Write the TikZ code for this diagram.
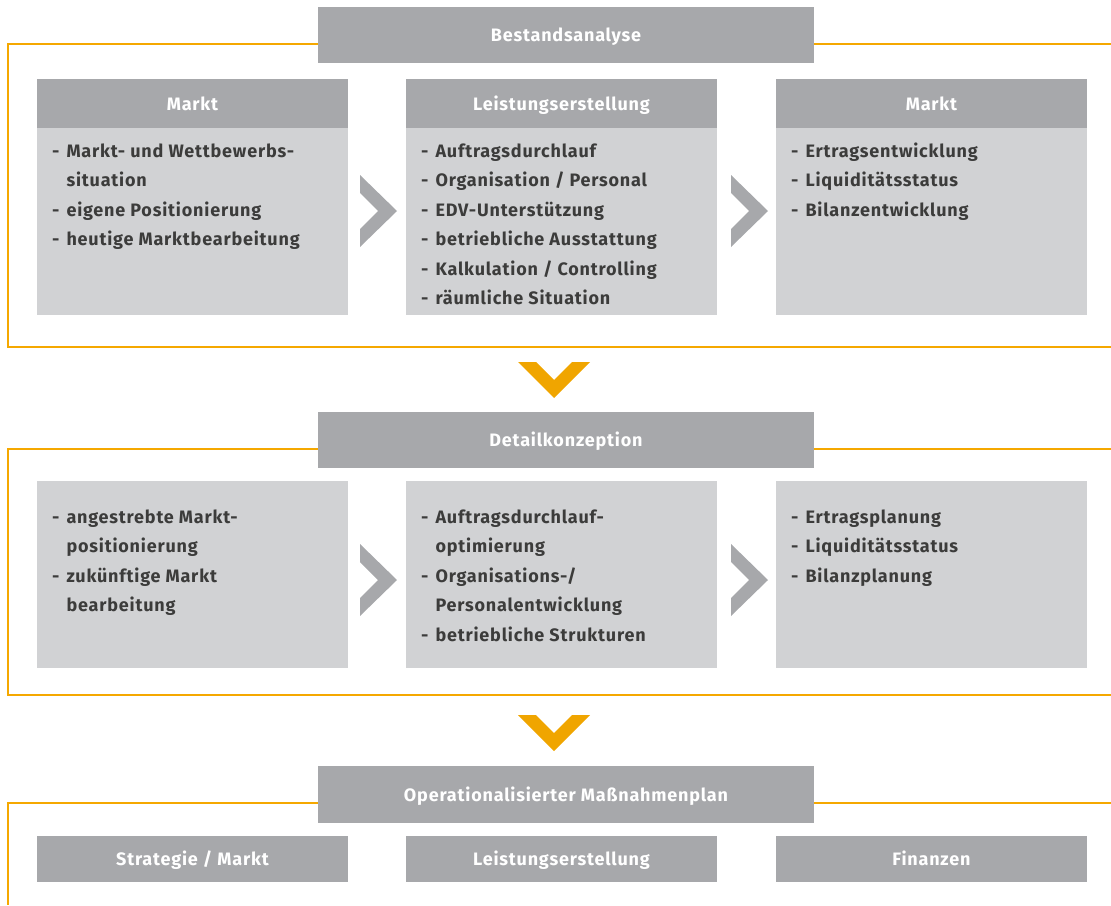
\documentclass[tikz,border=0pt]{standalone}
\usepackage{fontspec}
\setmainfont{Fira Sans}[LetterSpace=4.5]
\usetikzlibrary{positioning}
\definecolor{headgray}{HTML}{A7A8AB}
\definecolor{bodygray}{HTML}{D1D2D4}
\definecolor{framegold}{HTML}{F5A800}
\definecolor{arrowgold}{HTML}{F0A500}
\definecolor{textdark}{HTML}{3C3C3B}
\tikzset{
    basefont/.style={font=\fontsize{18}{29.5}\selectfont\bfseries},
    headbox/.style={basefont, fill=headgray, text=white, inner sep=0pt, text height=13pt, text depth=0pt},
    bodybox/.style={fill=bodygray, minimum width=311pt, inner sep=0pt},
    listtext/.style={basefont, text=textdark, inner sep=0pt, anchor=base west},
    frameline/.style={draw=framegold, line width=2pt},
    chevgray/.style={fill=headgray},
    chevgold/.style={fill=arrowgold}
}
\newcommand\dashlist[1]{\begin{tabular}[t]{@{}l@{\hspace{7pt}}l@{}}#1\end{tabular}}
\begin{document}
\begin{tikzpicture}[x=1pt, y=-1pt]
        \useasboundingbox (0,0) rectangle (1111,905);
        \draw [frameline] (1111,44) -| (8,347) -- (1111,347);
        \draw [frameline] (1111,449) -| (8,695) -- (1111,695);
        \draw [frameline] (1111,803) -| (8,905);

        \node [headbox, minimum width=496pt, minimum height=56pt] (bestand) at (566,35) {Bestandsanalyse};
        \node [headbox, minimum width=496pt, minimum height=56pt] (detail) at (566,440) {Detailkonzeption};
        \node [headbox, minimum width=496pt, minimum height=57pt] (massnahmen) at (566,794.5) {Operationalisierter Maßnahmenplan};

        \node [headbox, minimum width=311pt, minimum height=49pt] (markt) at (192.5,103.5) {Markt};
        \node [headbox, minimum width=311pt, minimum height=49pt] (leistung) at (561.5,103.5) {Leistungserstellung};
        \node [headbox, minimum width=311pt, minimum height=49pt] (ertrag) at (931.5,103.5) {Markt};
        \node [bodybox, minimum height=187pt, below=0pt of markt] (marktbody) {};
        \node [bodybox, minimum height=187pt, below=0pt of leistung] (leistungbody) {};
        \node [bodybox, minimum height=187pt, below=0pt of ertrag] (ertragbody) {};
        \node [listtext] (markttext) at (52,157) {\dashlist{
            - & Markt- und Wettbewerbs-\\
              & situation\\
            - & eigene Positionierung\\
            - & heutige Marktbearbeitung}};
        \node [listtext] (leistungtext) at (421,157) {\dashlist{
            - & Auftragsdurchlauf\\
            - & Organisation / Personal\\
            - & EDV-Unterstützung\\
            - & betriebliche Ausstattung\\
            - & Kalkulation / Controlling\\
            - & räumliche Situation}};
        \node [listtext] (ertragtext) at (791,157) {\dashlist{
            - & Ertragsentwicklung\\
            - & Liquiditätsstatus\\
            - & Bilanzentwicklung}};

        \node [bodybox, minimum height=187pt] (zielmarkt) at (192.5,574.5) {};
        \node [bodybox, minimum height=187pt] (zielleistung) at (561.5,574.5) {};
        \node [bodybox, minimum height=187pt] (zielertrag) at (931.5,574.5) {};
        \node [listtext] (zielmarkttext) at (52,523) {\dashlist{
            - & angestrebte Markt-\\
              & positionierung\\
            - & zukünftige Markt\\
              & bearbeitung}};
        \node [listtext] (zielleistungtext) at (421,523) {\dashlist{
            - & Auftragsdurchlauf-\\
              & optimierung\\
            - & Organisations-/\\
              & Personalentwicklung\\
            - & betriebliche Strukturen}};
        \node [listtext] (zielertragtext) at (791,523) {\dashlist{
            - & Ertragsplanung\\
            - & Liquiditätsstatus\\
            - & Bilanzplanung}};

        \node [headbox, minimum width=311pt, minimum height=46pt] (strategie) at (192.5,859) {Strategie / Markt};
        \node [headbox, minimum width=311pt, minimum height=46pt] (umsetzung) at (561.5,859) {Leistungserstellung};
        \node [headbox, minimum width=311pt, minimum height=46pt] (finanzen) at (931.5,859) {Finanzen};

        \foreach \cx/\cy in {360/211, 731/211, 360/580, 731/580}
            \fill [chevgray, shift={(\cx,\cy)}] (0,-36) -- (37,0) -- (0,36) -- (0,18) -- (18,0) -- (0,-18) -- cycle;
        \foreach \cy in {362, 715}
            \fill [chevgold, shift={(554,\cy)}] (-36,0) -- (0,36) -- (36,0) -- (18,0) -- (0,18) -- (-18,0) -- cycle;
    \end{tikzpicture}
\end{document}
